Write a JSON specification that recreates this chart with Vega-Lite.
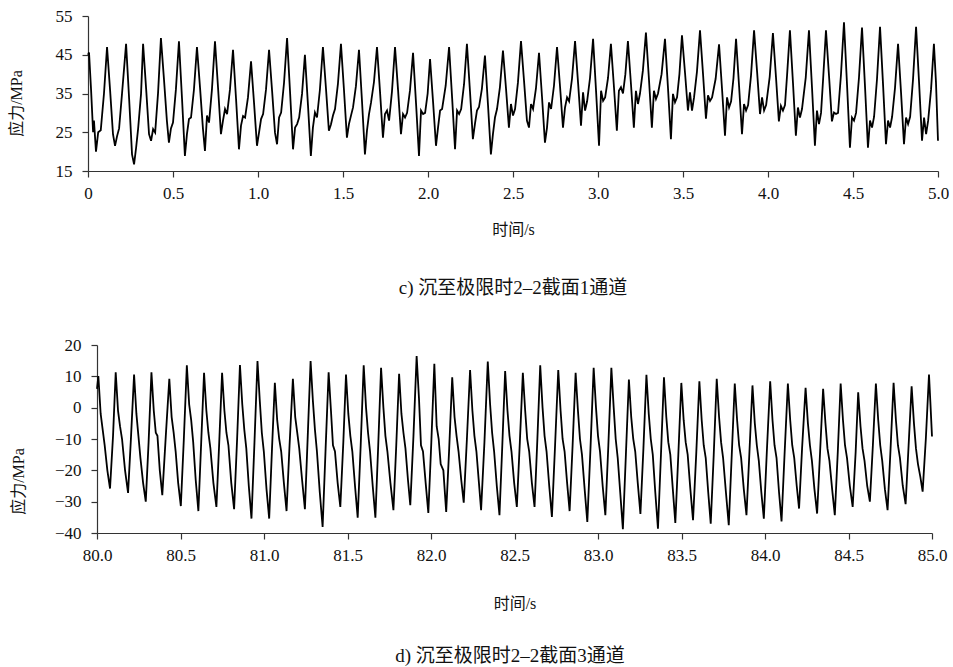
{
"$schema": "https://vega.github.io/schema/vega-lite/v6.json",
"background": "white",
"padding": {"left": 8, "top": 7, "right": 0, "bottom": 0},
"config": {
  "view": {"stroke": null},
  "font": "Liberation Serif, Noto Sans CJK SC",
  "axis": {"grid": false, "domainColor": "#333", "domainWidth": 1.2, "tickColor": "#333", "tickWidth": 1.2, "tickSize": 6,
    "labelFont": "Liberation Serif", "labelFontSize": 17, "labelColor": "#111", "labelPadding": 8, "labelFlush": false, "labelOverlap": false,
    "titleFont": "Liberation Serif, Noto Sans CJK SC", "titleFontSize": 16, "titleFontWeight": "normal", "titleColor": "#111"},
  "axisY": {"labelPadding": 10},
  "title": {"font": "Liberation Serif, Noto Sans CJK SC", "fontSize": 19, "fontWeight": "normal", "color": "#111"}
},
"spacing": 38,
"datasets": {
"top": [
{"t":0,"v":45},{"t":0.006,"v":45.6},{"t":0.018,"v":36},{"t":0.03,"v":25},{"t":0.035,"v":28},{"t":0.047,"v":20},{"t":0.06,"v":25},{"t":0.075,"v":25.5},{"t":0.094,"v":35},
{"t":0.112,"v":47},{"t":0.13,"v":35.8},{"t":0.147,"v":24.5},{"t":0.159,"v":21.5},{"t":0.171,"v":24},{"t":0.183,"v":26},{"t":0.2,"v":34.9},
{"t":0.224,"v":47.8},{"t":0.242,"v":33.6},{"t":0.259,"v":19.3},{"t":0.271,"v":16.7},{"t":0.283,"v":21},{"t":0.295,"v":26},{"t":0.312,"v":34.9},
{"t":0.324,"v":47.8},{"t":0.342,"v":36.2},{"t":0.359,"v":24.5},{"t":0.371,"v":22.8},{"t":0.383,"v":25.8},{"t":0.395,"v":24.9},{"t":0.412,"v":35.1},
{"t":0.429,"v":49.3},{"t":0.447,"v":38.6},{"t":0.464,"v":28},{"t":0.476,"v":22.3},{"t":0.488,"v":26},{"t":0.5,"v":27.5},{"t":0.517,"v":36},
{"t":0.535,"v":48.5},{"t":0.553,"v":33.7},{"t":0.57,"v":18.9},{"t":0.582,"v":24.5},{"t":0.594,"v":28.4},{"t":0.606,"v":28.8},{"t":0.623,"v":35.9},
{"t":0.641,"v":47},{"t":0.659,"v":36.5},{"t":0.676,"v":26},{"t":0.688,"v":20.2},{"t":0.7,"v":29.3},{"t":0.712,"v":27.5},{"t":0.729,"v":36},
{"t":0.747,"v":48.5},{"t":0.765,"v":36.5},{"t":0.782,"v":24.5},{"t":0.794,"v":28},{"t":0.806,"v":31},{"t":0.818,"v":29.7},{"t":0.835,"v":36},
{"t":0.853,"v":46.3},{"t":0.871,"v":33.5},{"t":0.888,"v":20.6},{"t":0.9,"v":26.7},{"t":0.912,"v":29.2},{"t":0.924,"v":28.8},{"t":0.941,"v":34},
{"t":0.959,"v":43.3},{"t":0.977,"v":32.4},{"t":0.994,"v":21.5},{"t":1.006,"v":24.9},{"t":1.018,"v":28.4},{"t":1.03,"v":29.7},{"t":1.047,"v":36},
{"t":1.065,"v":46.3},{"t":1.083,"v":35.6},{"t":1.1,"v":24.9},{"t":1.112,"v":21.9},{"t":1.124,"v":28.8},{"t":1.136,"v":30.1},{"t":1.153,"v":37.7},
{"t":1.171,"v":49.3},{"t":1.189,"v":35},{"t":1.206,"v":20.6},{"t":1.218,"v":26.2},{"t":1.23,"v":27.1},{"t":1.242,"v":28.8},{"t":1.259,"v":34.9},
{"t":1.276,"v":45},{"t":1.294,"v":32},{"t":1.311,"v":18.9},{"t":1.323,"v":26.2},{"t":1.335,"v":30.1},{"t":1.347,"v":28.8},{"t":1.364,"v":35.9},
{"t":1.382,"v":47},{"t":1.4,"v":36.2},{"t":1.417,"v":25.4},{"t":1.429,"v":27},{"t":1.441,"v":29.3},{"t":1.453,"v":31},{"t":1.47,"v":37.4},
{"t":1.488,"v":47.8},{"t":1.506,"v":35.7},{"t":1.523,"v":23.6},{"t":1.535,"v":27.1},{"t":1.547,"v":29.3},{"t":1.559,"v":31.4},{"t":1.576,"v":36.9},
{"t":1.594,"v":46.3},{"t":1.612,"v":32.8},{"t":1.629,"v":19.3},{"t":1.641,"v":25.4},{"t":1.653,"v":29.7},{"t":1.665,"v":32.7},{"t":1.682,"v":37.9},
{"t":1.7,"v":47},{"t":1.718,"v":35.3},{"t":1.735,"v":23.6},{"t":1.747,"v":29.7},{"t":1.759,"v":30.6},{"t":1.771,"v":28},{"t":1.788,"v":35.5},
{"t":1.806,"v":47},{"t":1.824,"v":35.8},{"t":1.841,"v":24.5},{"t":1.853,"v":29.7},{"t":1.865,"v":28.8},{"t":1.877,"v":30},{"t":1.894,"v":35.8},
{"t":1.912,"v":45.5},{"t":1.93,"v":32.2},{"t":1.947,"v":18.9},{"t":1.959,"v":30.6},{"t":1.971,"v":29.7},{"t":1.983,"v":30},{"t":1.998,"v":35},
{"t":2.012,"v":43.9},{"t":2.03,"v":32.7},{"t":2.047,"v":21.5},{"t":2.059,"v":26.2},{"t":2.071,"v":30.6},{"t":2.083,"v":31},{"t":2.104,"v":37},
{"t":2.124,"v":47},{"t":2.142,"v":33.8},{"t":2.159,"v":20.6},{"t":2.171,"v":30.6},{"t":2.183,"v":29.7},{"t":2.195,"v":31},{"t":2.212,"v":37.4},
{"t":2.229,"v":47.8},{"t":2.247,"v":35.5},{"t":2.264,"v":23.2},{"t":2.276,"v":27.1},{"t":2.288,"v":30.6},{"t":2.3,"v":31.5},{"t":2.317,"v":36.2},
{"t":2.335,"v":44.8},{"t":2.353,"v":32},{"t":2.37,"v":19.3},{"t":2.382,"v":24.5},{"t":2.394,"v":28.8},{"t":2.406,"v":31},{"t":2.423,"v":36.6},
{"t":2.441,"v":46.1},{"t":2.459,"v":36.2},{"t":2.476,"v":26.2},{"t":2.488,"v":32.3},{"t":2.5,"v":29.3},{"t":2.512,"v":31},{"t":2.529,"v":37.8},
{"t":2.547,"v":48.5},{"t":2.565,"v":38.2},{"t":2.582,"v":28},{"t":2.594,"v":26.2},{"t":2.606,"v":32.3},{"t":2.618,"v":31},{"t":2.635,"v":36.3},
{"t":2.653,"v":45.5},{"t":2.671,"v":33.9},{"t":2.688,"v":22.3},{"t":2.7,"v":26.2},{"t":2.712,"v":32.7},{"t":2.724,"v":31},{"t":2.741,"v":37},
{"t":2.759,"v":47},{"t":2.777,"v":36.6},{"t":2.794,"v":26.2},{"t":2.806,"v":31.4},{"t":2.818,"v":34},{"t":2.83,"v":33},{"t":2.847,"v":38.8},
{"t":2.865,"v":48.5},{"t":2.883,"v":37.6},{"t":2.9,"v":26.7},{"t":2.912,"v":35.3},{"t":2.924,"v":30.6},{"t":2.936,"v":33},{"t":2.953,"v":39},
{"t":2.971,"v":49.1},{"t":2.989,"v":35.3},{"t":3.006,"v":21.5},{"t":3.018,"v":35.7},{"t":3.03,"v":33.1},{"t":3.042,"v":34},{"t":3.059,"v":39},
{"t":3.076,"v":47.8},{"t":3.094,"v":36.6},{"t":3.111,"v":25.4},{"t":3.123,"v":35.7},{"t":3.135,"v":36.6},{"t":3.147,"v":35},{"t":3.161,"v":40},
{"t":3.176,"v":48.5},{"t":3.194,"v":37.4},{"t":3.211,"v":26.2},{"t":3.223,"v":35.7},{"t":3.235,"v":32.3},{"t":3.247,"v":35},{"t":3.264,"v":40.9},
{"t":3.282,"v":50.7},{"t":3.3,"v":38.5},{"t":3.317,"v":26.2},{"t":3.329,"v":35.7},{"t":3.341,"v":33.6},{"t":3.353,"v":35},{"t":3.374,"v":40},
{"t":3.394,"v":49.1},{"t":3.412,"v":36.2},{"t":3.429,"v":23.2},{"t":3.441,"v":34.9},{"t":3.453,"v":32.7},{"t":3.465,"v":34},{"t":3.479,"v":40},
{"t":3.494,"v":50},{"t":3.512,"v":40.3},{"t":3.529,"v":30.6},{"t":3.541,"v":35.3},{"t":3.553,"v":30.6},{"t":3.565,"v":34},{"t":3.582,"v":40.6},
{"t":3.6,"v":51.3},{"t":3.618,"v":39.9},{"t":3.635,"v":28.5},{"t":3.647,"v":34.5},{"t":3.659,"v":33.1},{"t":3.671,"v":34},{"t":3.692,"v":38.8},
{"t":3.712,"v":47.7},{"t":3.73,"v":35.9},{"t":3.747,"v":24.1},{"t":3.759,"v":34},{"t":3.771,"v":31.4},{"t":3.783,"v":33},{"t":3.797,"v":39},
{"t":3.812,"v":49.1},{"t":3.83,"v":36.8},{"t":3.847,"v":24.5},{"t":3.859,"v":32.3},{"t":3.871,"v":30.6},{"t":3.883,"v":32},{"t":3.9,"v":39.6},
{"t":3.918,"v":51.3},{"t":3.936,"v":40.5},{"t":3.953,"v":29.7},{"t":3.965,"v":34},{"t":3.977,"v":30.6},{"t":3.989,"v":32},{"t":4.01,"v":39.3},
{"t":4.029,"v":50.6},{"t":4.047,"v":39.2},{"t":4.064,"v":27.8},{"t":4.076,"v":31.8},{"t":4.088,"v":30.6},{"t":4.1,"v":32},{"t":4.112,"v":39.6},
{"t":4.129,"v":51.3},{"t":4.147,"v":37.7},{"t":4.164,"v":24.1},{"t":4.176,"v":31.4},{"t":4.188,"v":28.8},{"t":4.2,"v":31},{"t":4.222,"v":39.1},
{"t":4.241,"v":51.3},{"t":4.259,"v":36.4},{"t":4.276,"v":21.5},{"t":4.288,"v":30.6},{"t":4.3,"v":27.1},{"t":4.312,"v":30},{"t":4.324,"v":38.6},
{"t":4.341,"v":51.3},{"t":4.359,"v":39.5},{"t":4.376,"v":27.8},{"t":4.388,"v":30.1},{"t":4.4,"v":29.7},{"t":4.412,"v":30},{"t":4.429,"v":39.7},
{"t":4.447,"v":53.4},{"t":4.465,"v":37.2},{"t":4.482,"v":21},{"t":4.494,"v":28.8},{"t":4.506,"v":28},{"t":4.518,"v":30},{"t":4.535,"v":39},
{"t":4.553,"v":52},{"t":4.571,"v":36.5},{"t":4.588,"v":21},{"t":4.6,"v":28},{"t":4.612,"v":26.2},{"t":4.624,"v":29},{"t":4.641,"v":38.6},
{"t":4.659,"v":52.2},{"t":4.677,"v":37.1},{"t":4.694,"v":21.9},{"t":4.706,"v":28},{"t":4.718,"v":26.2},{"t":4.73,"v":29},{"t":4.747,"v":36.4},
{"t":4.765,"v":47.8},{"t":4.783,"v":34.9},{"t":4.8,"v":21.9},{"t":4.812,"v":28.8},{"t":4.824,"v":27.1},{"t":4.836,"v":29},{"t":4.853,"v":38.6},
{"t":4.871,"v":52.2},{"t":4.889,"v":37.5},{"t":4.906,"v":22.8},{"t":4.918,"v":28.8},{"t":4.93,"v":24.5},{"t":4.942,"v":28},{"t":4.959,"v":36},
{"t":4.976,"v":47.8},{"t":4.988,"v":38},{"t":5,"v":22.8}
],
"bottom": [
{"t":80,"v":6},
{"t":80.008,"v":10.1},{"t":80.022,"v":-2},{"t":80.034,"v":-7},{"t":80.046,"v":-12},{"t":80.062,"v":-20},{"t":80.078,"v":-25.8},{"t":80.096,"v":-9},
{"t":80.112,"v":11.3},{"t":80.126,"v":-1},{"t":80.138,"v":-6},{"t":80.15,"v":-10},{"t":80.168,"v":-20},{"t":80.186,"v":-27.2},{"t":80.204,"v":-9},
{"t":80.222,"v":10.6},{"t":80.236,"v":-2},{"t":80.248,"v":-9},{"t":80.26,"v":-16},{"t":80.276,"v":-24},{"t":80.292,"v":-30},{"t":80.309,"v":-11},
{"t":80.326,"v":11.3},{"t":80.34,"v":-1},{"t":80.352,"v":-8},{"t":80.362,"v":-9},{"t":80.376,"v":-20},{"t":80.391,"v":-27.9},{"t":80.412,"v":-9},
{"t":80.433,"v":9.2},{"t":80.447,"v":-3},{"t":80.459,"v":-8},{"t":80.471,"v":-14},{"t":80.486,"v":-24},{"t":80.502,"v":-31.4},{"t":80.52,"v":-10},
{"t":80.538,"v":13.5},{"t":80.552,"v":1},{"t":80.564,"v":-4},{"t":80.576,"v":-11},{"t":80.591,"v":-23},{"t":80.607,"v":-33},{"t":80.624,"v":-11},
{"t":80.641,"v":11.1},{"t":80.655,"v":-1},{"t":80.667,"v":-8},{"t":80.679,"v":-13},{"t":80.697,"v":-24},{"t":80.715,"v":-31.7},{"t":80.732,"v":-11},
{"t":80.749,"v":11.1},{"t":80.763,"v":-1},{"t":80.775,"v":-8},{"t":80.787,"v":-12},{"t":80.804,"v":-24},{"t":80.821,"v":-32.4},{"t":80.839,"v":-10},
{"t":80.856,"v":13.6},{"t":80.87,"v":1},{"t":80.882,"v":-7},{"t":80.894,"v":-13},{"t":80.909,"v":-25},{"t":80.925,"v":-35.4},{"t":80.943,"v":-11},
{"t":80.961,"v":14.9},{"t":80.975,"v":2},{"t":80.987,"v":-8},{"t":80.999,"v":-14},{"t":81.015,"v":-26},{"t":81.031,"v":-35.4},{"t":81.048,"v":-13},
{"t":81.065,"v":7.9},{"t":81.079,"v":-4},{"t":81.091,"v":-10},{"t":81.103,"v":-14},{"t":81.119,"v":-24},{"t":81.135,"v":-33},{"t":81.153,"v":-12},
{"t":81.173,"v":9.2},{"t":81.187,"v":-3},{"t":81.199,"v":-8},{"t":81.211,"v":-13},{"t":81.228,"v":-23},{"t":81.245,"v":-32.4},{"t":81.262,"v":-9},
{"t":81.279,"v":14.9},{"t":81.293,"v":2},{"t":81.305,"v":-7},{"t":81.317,"v":-14},{"t":81.334,"v":-27},{"t":81.351,"v":-38.1},{"t":81.369,"v":-13},
{"t":81.387,"v":11.3},{"t":81.401,"v":-1},{"t":81.413,"v":-12},{"t":81.425,"v":-14},{"t":81.441,"v":-24},{"t":81.457,"v":-31.7},{"t":81.475,"v":-11},
{"t":81.491,"v":10.6},{"t":81.505,"v":-2},{"t":81.517,"v":-9},{"t":81.529,"v":-14},{"t":81.545,"v":-25},{"t":81.561,"v":-35.1},{"t":81.579,"v":-12},
{"t":81.597,"v":13.5},{"t":81.611,"v":0},{"t":81.623,"v":-8},{"t":81.635,"v":-14},{"t":81.651,"v":-25},{"t":81.667,"v":-35.1},{"t":81.684,"v":-12},
{"t":81.701,"v":12.7},{"t":81.715,"v":0},{"t":81.727,"v":-9},{"t":81.739,"v":-14},{"t":81.757,"v":-24},{"t":81.775,"v":-32.7},{"t":81.792,"v":-12},
{"t":81.809,"v":10.8},{"t":81.823,"v":-2},{"t":81.835,"v":-8},{"t":81.847,"v":-13},{"t":81.862,"v":-23},{"t":81.876,"v":-31.1},{"t":81.895,"v":-9},
{"t":81.914,"v":16.5},{"t":81.928,"v":3},{"t":81.94,"v":-12},{"t":81.952,"v":-14},{"t":81.968,"v":-24},{"t":81.984,"v":-33.6},{"t":82.002,"v":-11},
{"t":82.02,"v":14},{"t":82.034,"v":-6},{"t":82.046,"v":-10},{"t":82.058,"v":-18},{"t":82.074,"v":-20},{"t":82.091,"v":-33.3},{"t":82.109,"v":-13},
{"t":82.127,"v":9.7},{"t":82.141,"v":-3},{"t":82.153,"v":-9},{"t":82.165,"v":-14},{"t":82.181,"v":-23},{"t":82.196,"v":-30.3},{"t":82.215,"v":-10},
{"t":82.234,"v":12},{"t":82.248,"v":-1},{"t":82.26,"v":-9},{"t":82.272,"v":-14},{"t":82.287,"v":-24},{"t":82.3,"v":-32.7},{"t":82.32,"v":-11},
{"t":82.34,"v":14.7},{"t":82.354,"v":1},{"t":82.366,"v":-8},{"t":82.378,"v":-14},{"t":82.394,"v":-25},{"t":82.41,"v":-34.3},{"t":82.427,"v":-12},
{"t":82.444,"v":11.7},{"t":82.458,"v":-1},{"t":82.47,"v":-9},{"t":82.482,"v":-14},{"t":82.498,"v":-24},{"t":82.514,"v":-31.7},{"t":82.532,"v":-11},
{"t":82.55,"v":11.1},{"t":82.564,"v":-1},{"t":82.576,"v":-10},{"t":82.588,"v":-14},{"t":82.604,"v":-24},{"t":82.62,"v":-31.7},{"t":82.637,"v":-10},
{"t":82.654,"v":13.5},{"t":82.668,"v":0},{"t":82.68,"v":-9},{"t":82.692,"v":-14},{"t":82.708,"v":-25},{"t":82.724,"v":-34.9},{"t":82.743,"v":-12},
{"t":82.762,"v":12},{"t":82.776,"v":-1},{"t":82.788,"v":-10},{"t":82.8,"v":-14},{"t":82.815,"v":-24},{"t":82.83,"v":-33},{"t":82.848,"v":-12},
{"t":82.866,"v":11.1},{"t":82.88,"v":-1},{"t":82.892,"v":-10},{"t":82.904,"v":-15},{"t":82.92,"v":-26},{"t":82.936,"v":-36.5},{"t":82.955,"v":-13},
{"t":82.974,"v":12.7},{"t":82.988,"v":0},{"t":83,"v":-9},{"t":83.012,"v":-14},{"t":83.028,"v":-25},{"t":83.044,"v":-34.3},{"t":83.062,"v":-12},
{"t":83.08,"v":12.7},{"t":83.094,"v":0},{"t":83.106,"v":-10},{"t":83.118,"v":-16},{"t":83.133,"v":-27},{"t":83.149,"v":-38.8},{"t":83.167,"v":-15},
{"t":83.185,"v":9},{"t":83.199,"v":-3},{"t":83.211,"v":-10},{"t":83.223,"v":-14},{"t":83.238,"v":-24},{"t":83.254,"v":-33.9},{"t":83.272,"v":-13},
{"t":83.29,"v":10.5},{"t":83.304,"v":-2},{"t":83.316,"v":-10},{"t":83.328,"v":-15},{"t":83.343,"v":-27},{"t":83.359,"v":-38.6},{"t":83.377,"v":-15},
{"t":83.395,"v":9.7},{"t":83.409,"v":-3},{"t":83.421,"v":-11},{"t":83.433,"v":-15},{"t":83.448,"v":-26},{"t":83.463,"v":-36.8},{"t":83.481,"v":-15},
{"t":83.499,"v":7.9},{"t":83.513,"v":-4},{"t":83.525,"v":-11},{"t":83.537,"v":-15},{"t":83.553,"v":-26},{"t":83.569,"v":-35.9},{"t":83.588,"v":-15},
{"t":83.607,"v":8.4},{"t":83.621,"v":-4},{"t":83.633,"v":-12},{"t":83.645,"v":-16},{"t":83.66,"v":-27},{"t":83.675,"v":-37},{"t":83.693,"v":-15},
{"t":83.711,"v":9.2},{"t":83.725,"v":-3},{"t":83.737,"v":-11},{"t":83.749,"v":-16},{"t":83.766,"v":-27},{"t":83.783,"v":-37.5},{"t":83.801,"v":-15},
{"t":83.819,"v":7.7},{"t":83.833,"v":-4},{"t":83.845,"v":-12},{"t":83.857,"v":-16},{"t":83.873,"v":-26},{"t":83.889,"v":-34.3},{"t":83.907,"v":-14},
{"t":83.925,"v":7.1},{"t":83.939,"v":-5},{"t":83.951,"v":-12},{"t":83.963,"v":-17},{"t":83.978,"v":-27},{"t":83.993,"v":-35.4},{"t":84.011,"v":-14},
{"t":84.031,"v":8.4},{"t":84.045,"v":-4},{"t":84.057,"v":-12},{"t":84.069,"v":-16},{"t":84.084,"v":-27},{"t":84.099,"v":-36.3},{"t":84.117,"v":-15},
{"t":84.137,"v":7.7},{"t":84.151,"v":-4},{"t":84.163,"v":-12},{"t":84.175,"v":-16},{"t":84.19,"v":-25},{"t":84.204,"v":-32.2},{"t":84.222,"v":-13},
{"t":84.243,"v":6.3},{"t":84.257,"v":-5},{"t":84.269,"v":-12},{"t":84.281,"v":-17},{"t":84.296,"v":-26},{"t":84.312,"v":-33.8},{"t":84.33,"v":-14},
{"t":84.348,"v":6},{"t":84.362,"v":-5},{"t":84.374,"v":-13},{"t":84.386,"v":-17},{"t":84.402,"v":-26},{"t":84.418,"v":-34.3},{"t":84.436,"v":-14},
{"t":84.453,"v":7.7},{"t":84.467,"v":-4},{"t":84.479,"v":-12},{"t":84.491,"v":-16},{"t":84.508,"v":-25},{"t":84.525,"v":-31.7},{"t":84.543,"v":-14},
{"t":84.558,"v":4.9},{"t":84.572,"v":-6},{"t":84.584,"v":-13},{"t":84.596,"v":-17},{"t":84.612,"v":-25},{"t":84.628,"v":-30},{"t":84.646,"v":-12},
{"t":84.664,"v":7.7},{"t":84.678,"v":-4},{"t":84.69,"v":-12},{"t":84.702,"v":-17},{"t":84.718,"v":-26},{"t":84.734,"v":-32.7},{"t":84.752,"v":-13},
{"t":84.77,"v":7.9},{"t":84.784,"v":-4},{"t":84.796,"v":-12},{"t":84.808,"v":-16},{"t":84.825,"v":-25},{"t":84.842,"v":-30.8},{"t":84.86,"v":-12},
{"t":84.878,"v":6.8},{"t":84.892,"v":-5},{"t":84.904,"v":-13},{"t":84.916,"v":-18},{"t":84.93,"v":-22},{"t":84.944,"v":-26.8},{"t":84.963,"v":-10},
{"t":84.982,"v":10.6},{"t":84.99,"v":2},{"t":85,"v":-9.2}
]
},
"vconcat": [
{
  "width": 850, "height": 155,
  "data": {"name": "top"},
  "title": {"text": "c) 沉至极限时2–2截面1通道", "orient": "bottom", "anchor": "middle", "offset": 42},
  "mark": {"type": "line", "color": "#000", "strokeWidth": 1.8},
  "encoding": {
    "x": {"field": "t", "type": "quantitative", "scale": {"domain": [0, 5], "nice": false, "zero": false},
      "axis": {"values": [0,0.5,1,1.5,2,2.5,3,3.5,4,4.5,5], "labelExpr": "datum.value == 0 ? '0' : format(datum.value, '.1f')", "title": "时间/s", "titlePadding": 20}},
    "y": {"field": "v", "type": "quantitative", "scale": {"domain": [15, 55], "nice": false, "zero": false},
      "axis": {"values": [15,25,35,45,55], "title": "应力/MPa", "titlePadding": 31, "titleY": 87}}
  }
},
{
  "width": 844, "height": 188,
  "data": {"name": "bottom"},
  "title": {"text": "d) 沉至极限时2–2截面3通道", "orient": "bottom", "anchor": "middle", "offset": 36},
  "mark": {"type": "line", "color": "#000", "strokeWidth": 1.8},
  "encoding": {
    "x": {"field": "t", "type": "quantitative", "scale": {"domain": [80, 85], "nice": false, "zero": false, "range": [9, 844]},
      "axis": {"values": [80,80.5,81,81.5,82,82.5,83,83.5,84,84.5,85], "format": ".1f", "title": "时间/s", "titlePadding": 32}},
    "y": {"field": "v", "type": "quantitative", "scale": {"domain": [-40, 20], "nice": false, "zero": false},
      "axis": {"values": [-40,-30,-20,-10,0,10,20], "title": "应力/MPa", "titlePadding": 28, "titleY": 136, "offset": -9}}
  }
}
]
}
